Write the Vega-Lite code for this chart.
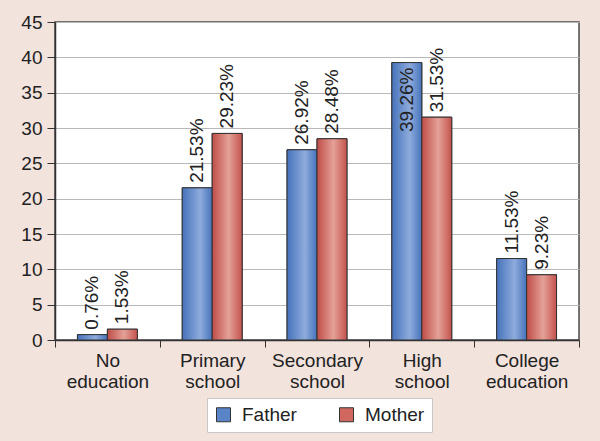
{
  "$schema": "https://vega.github.io/schema/vega-lite/v6.json",
  "width": 524,
  "height": 318,
  "autosize": {"type": "none"},
  "padding": {"left": 55, "top": 22, "right": 21, "bottom": 101},
  "background": "#f3e3dd",
  "config": {
    "font": "Liberation Sans",
    "view": {"stroke": "#4a4a4a", "strokeWidth": 1.5, "fill": "white"}
  },
  "data": {
    "values": [
      {"level": "No education", "parent": "Father", "value": 0.76, "label": "0.76%"},
      {"level": "No education", "parent": "Mother", "value": 1.53, "label": "1.53%"},
      {"level": "Primary school", "parent": "Father", "value": 21.53, "label": "21.53%"},
      {"level": "Primary school", "parent": "Mother", "value": 29.23, "label": "29.23%"},
      {"level": "Secondary school", "parent": "Father", "value": 26.92, "label": "26.92%"},
      {"level": "Secondary school", "parent": "Mother", "value": 28.48, "label": "28.48%"},
      {"level": "High school", "parent": "Father", "value": 39.26, "label": "39.26%"},
      {"level": "High school", "parent": "Mother", "value": 31.53, "label": "31.53%"},
      {"level": "College education", "parent": "Father", "value": 11.53, "label": "11.53%"},
      {"level": "College education", "parent": "Mother", "value": 9.23, "label": "9.23%"}
    ]
  },
  "encoding": {
    "x": {
      "field": "level", "type": "nominal", "sort": null,
      "scale": {"paddingInner": 0, "paddingOuter": 0},
      "axis": {
        "title": null, "labelAngle": 0, "labelFontSize": 19, "labelColor": "#222",
        "labelExpr": "split(datum.label, ' ')", "labelLineHeight": 21,
        "labelPadding": 4, "tickBand": "extent", "tickSize": 7,
        "tickColor": "#333", "domainColor": "#333", "domainWidth": 1.5, "grid": false
      }
    },
    "xOffset": {
      "field": "parent", "type": "nominal",
      "scale": {"domain": ["Father", "Mother"], "paddingInner": 0, "paddingOuter": 0.75}
    },
    "y": {
      "field": "value", "type": "quantitative",
      "scale": {"domain": [0, 45], "nice": false},
      "axis": {
        "title": null, "values": [0, 5, 10, 15, 20, 25, 30, 35, 40, 45],
        "labelFontSize": 19, "labelColor": "#222", "labelPadding": 5,
        "tickSize": 8, "tickColor": "#333", "domainColor": "#333", "domainWidth": 1.5,
        "gridColor": "#b8b8b8", "gridWidth": 1
      }
    }
  },
  "layer": [
    {
      "mark": {"type": "bar", "stroke": "#333", "strokeWidth": 1},
      "encoding": {
        "color": {
          "field": "parent", "type": "nominal",
          "scale": {"domain": ["Father", "Mother"], "range": ["#5a84c8", "#d0685f"]},
          "legend": {
            "title": null, "orient": "none", "legendX": 152, "legendY": 376,
            "direction": "horizontal", "fillColor": "white", "strokeColor": "#c8c8c8",
            "padding": 7, "labelFontSize": 19, "labelColor": "#222", "symbolType": "square",
            "symbolSize": 196, "symbolStrokeColor": "#333", "symbolStrokeWidth": 1,
            "symbolOpacity": 1, "labelOffset": 9, "columnPadding": 40
          }
        }
      }
    },
    {
      "transform": [{"filter": "datum.parent === 'Father'"}],
      "mark": {
        "type": "bar", "stroke": "#333", "strokeWidth": 1,
        "fill": {"gradient": "linear", "x1": 0, "x2": 1, "y1": 0, "y2": 0,
          "stops": [{"offset": 0, "color": "#4673bb"}, {"offset": 0.6, "color": "#8eabdc"}, {"offset": 1, "color": "#4673bb"}]}
      },
      "encoding": {}
    },
    {
      "transform": [{"filter": "datum.parent === 'Mother'"}],
      "mark": {
        "type": "bar", "stroke": "#333", "strokeWidth": 1,
        "fill": {"gradient": "linear", "x1": 0, "x2": 1, "y1": 0, "y2": 0,
          "stops": [{"offset": 0, "color": "#bf4d48"}, {"offset": 0.55, "color": "#e4a197"}, {"offset": 1, "color": "#c4524d"}]}
      },
      "encoding": {}
    },
    {
      "transform": [{"filter": "datum.value < 35"}],
      "mark": {"type": "text", "angle": 270, "align": "left", "baseline": "middle", "dx": 5, "dy": 0, "fontSize": 19, "color": "#222"},
      "encoding": {"text": {"field": "label"}}
    },
    {
      "transform": [{"filter": "datum.value >= 35"}],
      "mark": {"type": "text", "angle": 270, "align": "right", "baseline": "middle", "dx": -5, "dy": 0, "fontSize": 19, "color": "#222"},
      "encoding": {"text": {"field": "label"}}
    }
  ]
}
